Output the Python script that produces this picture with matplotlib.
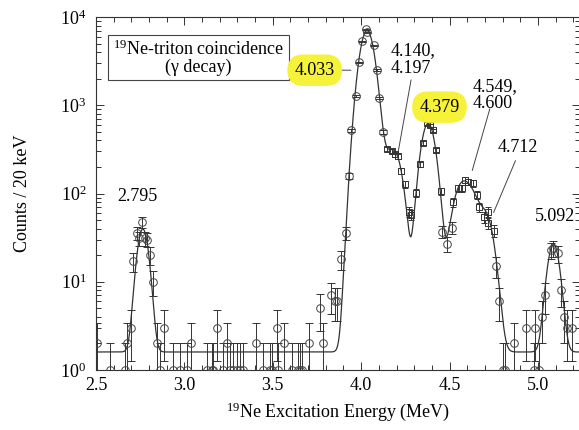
import numpy as np
import matplotlib
matplotlib.use("Agg")
import matplotlib.pyplot as plt
from matplotlib.ticker import MultipleLocator, LogLocator, NullFormatter, LogFormatterMathtext

plt.rcParams['font.family'] = ['Liberation Serif', 'DejaVu Serif']
plt.rcParams['mathtext.fontset'] = 'custom'
plt.rcParams['mathtext.rm'] = 'Liberation Serif'
plt.rcParams['mathtext.it'] = 'Liberation Serif:italic'
plt.rcParams['mathtext.bf'] = 'Liberation Serif:bold'

# ---- data ----
# circle-marker data points (energy MeV, counts / 20 keV)
circ_energy = [2.506, 2.579, 2.664, 2.675, 2.700, 2.712, 2.732, 2.743, 2.760, 2.777, 2.788,
               2.805, 2.822, 2.845, 2.862, 2.885, 2.935, 2.975, 3.014, 3.040, 3.127, 3.155,
               3.161, 3.184, 3.218, 3.240, 3.257, 3.274, 3.297, 3.314, 3.331, 3.405, 3.444,
               3.483, 3.494, 3.523, 3.530, 3.563, 3.607, 3.641, 3.653, 3.664, 3.703, 3.766,
               3.782, 3.828, 3.850, 3.862, 3.884, 3.912, 3.929, 3.945, 3.969, 3.986, 4.003,
               4.025, 4.031, 4.071, 4.088, 4.099, 4.122,
               4.460, 4.483, 4.511, 4.765, 4.782, 4.805, 4.816, 4.867, 4.935, 4.975, 4.986,
               5.008, 5.025, 5.042, 5.071, 5.087, 5.116, 5.133, 5.150, 5.167, 5.195]
circ_counts = [2, 1, 1, 2, 3, 17, 36, 31, 47, 31, 30,
               20, 10, 2, 1, 3, 1, 1, 1, 2, 1, 1,
               1, 3, 1, 2, 1, 1, 1, 1, 1, 2, 1,
               1, 1, 3, 1, 2, 1, 1, 1, 1, 2, 5,
               2, 7, 6, 6, 18, 36, 157, 522, 1270, 3076, 5320,
               7280, 6730, 4800, 2500, 1200, 496,
               37, 27, 41, 15, 6, 1, 1, 2, 3, 1, 3,
               1, 4, 7, 23, 24, 21, 8, 4, 3, 3]

# square-marker data points
sq_energy = [4.144, 4.172, 4.189, 4.206, 4.223, 4.246, 4.268, 4.280, 4.308, 4.331, 4.347,
             4.370, 4.387, 4.404, 4.421, 4.449, 4.517, 4.545, 4.568, 4.590, 4.607, 4.630,
             4.658, 4.669, 4.692, 4.715, 4.720, 4.754]
sq_counts = [318, 302, 279, 265, 179, 128, 62, 57, 101, 215, 372,
             627, 595, 522, 310, 106, 80, 115, 115, 142, 135, 131,
             96, 70, 54, 46, 62, 38]

# fitted curve: constant background + Gaussian peaks
fit_background = 1.6
fit_centers = [2.765, 4.033, 4.140, 4.197, 4.379, 4.549, 4.600, 4.712, 5.088]
fit_amplitudes = [38, 7000, 183, 235, 620, 35, 120, 40, 25]
fit_sigmas = [0.028, 0.037, 0.036, 0.036, 0.036, 0.036, 0.057, 0.036, 0.030]

x_min, x_max = 2.5, 5.235
y_min, y_max = 1, 1e4

# ---- figure ----
W, H = 579, 430
fig = plt.figure(figsize=(W / 100, H / 100), dpi=100)
ax_l, ax_r, ax_t, ax_b = 96, 579.5, 17, 370
ax = fig.add_axes([ax_l / W, (H - ax_b) / H, (ax_r - ax_l) / W, (ax_b - ax_t) / H])

ax.set_yscale('log')
ax.set_xlim(x_min, x_max)
ax.set_ylim(y_min, y_max)

# fit curve
xs = np.linspace(x_min, x_max, 1500)
ys = np.full_like(xs, fit_background)
for c, a, s in zip(fit_centers, fit_amplitudes, fit_sigmas):
    ys += a * np.exp(-0.5 * ((xs - c) / s) ** 2)
ax.plot(xs, ys, color='#333333', lw=0.9, zorder=2)

# data points with Poisson errors
ce = np.array(circ_energy); cc = np.array(circ_counts, dtype=float)
se = np.array(sq_energy); sc = np.array(sq_counts, dtype=float)
ax.errorbar(ce, cc, yerr=np.sqrt(cc), fmt='o', ms=5.5, mfc='none', mec='#444444', mew=0.7,
            ecolor='#333333', elinewidth=0.7, capsize=3.2, capthick=0.7, zorder=3)
ax.errorbar(se, sc, yerr=np.sqrt(sc), fmt='s', ms=4, mfc='none', mec='#333333', mew=0.7,
            ecolor='#333333', elinewidth=0.7, capsize=2.5, capthick=0.7, zorder=3)

# ticks
ax.xaxis.set_major_locator(MultipleLocator(0.5))
ax.xaxis.set_minor_locator(MultipleLocator(0.1))
ax.yaxis.set_major_locator(LogLocator(base=10, numticks=10))
ax.yaxis.set_minor_locator(LogLocator(base=10, subs=np.arange(2, 10), numticks=10))
ax.yaxis.set_minor_formatter(NullFormatter())
ax.yaxis.set_major_formatter(LogFormatterMathtext())
ax.tick_params(which='both', direction='in', top=True, right=True, colors='#333333',
               labelcolor='black', width=0.7)
ax.tick_params(which='major', length=6, labelsize=13)
ax.tick_params(which='minor', length=3.5)
ax.tick_params(axis='x', which='major', pad=5)
ax.tick_params(axis='y', which='major', pad=7)
ax.xaxis.set_major_formatter(matplotlib.ticker.FormatStrFormatter('%.1f'))
for sp in ax.spines.values():
    sp.set_linewidth(0.8)
    sp.set_color('#333333')

ax.set_xlabel(r'$^{19}$Ne Excitation Energy (MeV)', fontsize=13, labelpad=5)
ax.set_ylabel('Counts / 20 keV', fontsize=13, labelpad=21)

# box label
ax.text(0.212, 0.885, '$^{19}$Ne-triton coincidence\n(γ decay)', transform=ax.transAxes,
        ha='center', va='center', multialignment='center', fontsize=13, linespacing=1.0,
        bbox=dict(boxstyle='square,pad=0.25', fc='white', ec='#444444', lw=0.8))

# peak labels
hl = dict(boxstyle='round,pad=0.4,rounding_size=0.9', fc='#f6f23a', ec='none')
ax.text(3.737, 2495, '4.033', ha='center', va='center', fontsize=13, bbox=hl, zorder=5)
ax.annotate('', xy=(3.958, 2495), xytext=(3.862, 2495),
            arrowprops=dict(arrowstyle='-', color='#444444', lw=0.7))
ax.text(4.167, 3327, '4.140,\n4.197', ha='left', va='center', fontsize=13, linespacing=1.05)
ax.annotate('', xy=(4.206, 272), xytext=(4.285, 2081),
            arrowprops=dict(arrowstyle='-', color='#444444', lw=0.7))
ax.text(4.443, 952, '4.379', ha='center', va='center', fontsize=13, bbox=hl, zorder=5)
ax.text(4.630, 1301, '4.549,\n4.600', ha='left', va='center', fontsize=13, linespacing=1.05)
ax.annotate('', xy=(4.624, 170), xytext=(4.732, 977),
            arrowprops=dict(arrowstyle='-', color='#444444', lw=0.7))
ax.text(4.771, 335, '4.712', ha='left', va='center', fontsize=13)
ax.annotate('', xy=(4.743, 57), xytext=(4.879, 252),
            arrowprops=dict(arrowstyle='-', color='#444444', lw=0.7))
ax.text(4.980, 55.5, '5.092', ha='left', va='center', fontsize=13)
ax.text(2.732, 93.5, '2.795', ha='center', va='center', fontsize=13)

fig.savefig('out.png', dpi=100)
